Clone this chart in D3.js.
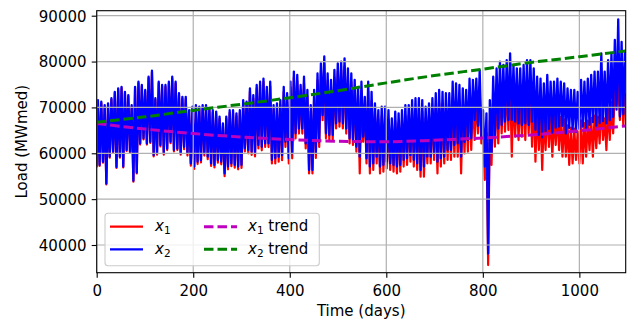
<!DOCTYPE html>
<html><head><meta charset="utf-8">
<script src="https://cdn.jsdelivr.net/npm/d3@7"></script>
<style>body{margin:0;background:#fff}svg{display:block}text{font-family:"DejaVu Sans",sans-serif}</style>
</head><body>
<script>
// ---- data (weekly high / low values, MWmed) ----
const x2Start = 57100;
const x1Start = 56900;
const x2High = [
71600,71250,70500,70900,72000,73400,74150,74500,73400,72700,
70500,74500,75600,74900,73800,76700,78000,72000,75600,74900,
74900,75600,76700,75600,73100,72300,72300,69400,70160,70500,
70160,70500,70500,69800,69400,69100,68000,66500,68000,69400,
69400,68700,69400,71600,71250,74150,72700,74900,75600,76300,
74500,75600,70500,70900,71600,74500,73100,75600,77800,77100,
74900,76700,73800,70500,73800,77400,79600,81100,77400,76000,
78200,79600,80000,80700,78500,77400,76000,74500,75600,72300,
75600,73400,70900,69400,70160,70160,69400,67600,69100,68700,
69400,70500,70500,71600,72000,72000,71600,70160,70900,72000,
73100,73800,73400,73100,73100,75600,75250,74900,74150,73800,
76300,76000,76300,78100,69400,68700,71600,76700,78500,80000,
79250,80300,81800,79250,78500,78500,79250,80300,80300,78500,
76700,76300,75250,77100,75600,75600,76300,75600,75250,74150,
73800,73800,73400,76000,75600,76300,77100,77800,77800,81800,
77800,80300,81800,84700,89200,84300,82500];
const x2Low = [
57450,58150,53400,59250,60350,57000,59250,57100,60700,60350,
54000,55800,62150,63250,62150,62500,59600,60000,61800,60000,
61000,62500,60700,61000,60000,
61400,60000,57800,57100,58150,58500,60000,59250,57800,57450,
58500,58150,55600,57100,57800,57450,57100,57450,61100,60700,
60350,60000,61800,61400,62150,62150,
58550,58900,59250,59600,62500,58900,60000,64350,65400,65400,
62150,56350,56350,60000,62500,68300,64350,64000,64000,66500,
66900,66500,65400,63250,62900,61450,
59250,63600,58900,57100,57800,59250,57100,57450,58150,57800,
57450,57100,57450,58550,58900,59600,58550,57800,56350,57100,
59250,59250,60000,58150,58900,59250,
60700,60700,61800,62150,59250,62500,62900,63250,67250,66000,
63600,57100,38150,60000,63600,65400,66150,66900,67250,67250,
66900,66500,66150,66500,66150,66900,65100,
64000,63500,64800,65300,64500,65600,65800,66000,64300,65500,
65000,64600,65300,65800,65400,66200,66800,66000,66600,67000,
66500,67200,67900,69500,68000,68500];
const x1High = [
71300,70950,70200,70600,71700,73100,73850,74200,73100,72400,
70200,74200,75300,74600,73500,76400,77700,71700,75300,74600,
74500,75200,76300,75200,72700,71900,71800,68900,69700,70000,
69700,70000,70000,69300,68900,68600,67500,66000,67500,68800,
68800,68100,68800,71000,70600,73500,72000,74200,74900,75600,
73800,74600,69500,69800,70500,73400,71900,74400,76500,75800,
73600,75300,72400,69100,72400,75900,78000,79500,75800,74400,
76500,77900,78200,78900,76700,75600,74200,72700,73700,70400,
73600,71400,68900,67400,68100,68100,67300,65500,67000,66500,
67200,68200,68200,69300,69600,69600,69100,67700,68400,69400,
70400,71000,70600,70000,69800,72200,71800,71300,70500,70100,
72500,72100,72300,74000,65200,64400,67200,72200,73900,75300,
74400,75300,76700,74000,73100,73000,73600,74500,74400,72400,
70300,69700,68500,70200,68500,68300,68800,67900,67400,66100,
65600,65400,64800,67200,66600,67100,67700,68200,68000,71800,
67600,69900,71200,73900,75200,74800,73000];
const x1Low = [
57250,57950,53200,59050,60150,56800,59050,56900,60500,60150,
53800,55600,61900,63000,61900,62250,59300,59700,61500,59700,
60700,62200,60400,60700,59700,
60900,59500,57300,56600,57650,58000,59500,58700,57250,56900,
57950,57600,55000,56500,57200,56850,56500,56800,60400,60000,
59650,59300,61050,60650,61400,61350,
57800,57800,58150,58500,61400,57800,58900,63250,64300,64300,
61050,55600,55600,59000,61400,67200,63250,62900,62900,65400,
65800,65400,64300,62150,61800,60350,
55600,62500,57800,55600,56350,57800,55600,56000,56700,56350,
56000,55600,56000,57100,57450,58150,57100,56350,54900,54900,
57800,57800,58550,55600,57100,57800,
58540,58540,59250,59250,55600,59980,60340,60710,62900,64340,
62160,54170,35630,57440,61440,62160,64340,64700,65070,59250,
63620,62890,63620,62890,64340,61440,58150,
60700,56350,60700,61400,59250,61800,60700,59250,59250,57450,
57800,58550,57800,57800,59250,60700,59250,61100,62150,62900,
60700,62900,64350,70160,67250,66150];
const trendDays = [0,100,200,300,400,500,600,700,800,900,1000,1095];
const x1Trend = [66500,65280,64300,63540,62990,62630,62520,62850,63350,64000,64900,65950];
const x2Trend = [66750,67950,69350,70700,72100,73650,75350,76950,78350,79800,81050,82300];
const xTicks = [0,200,400,600,800,1000];
const yTicks = [40000,50000,60000,70000,80000,90000];

// ---- build ----
const W=635,H=323;
const L=96.7,R=625.7,T=10.7,B=272.7;
const x=d3.scaleLinear().domain([0,1096]).range([L,R]);
const y=d3.scaleLinear().domain([33960,91090]).range([B,T]);

function series(start,hi,lo){
  const p=[[0,start]];
  hi.forEach((v,k)=>{p.push([7*k+2.5,v]); if(k<lo.length)p.push([7*k+6,lo[k]]);});
  return p;
}
const s1=series(x1Start,x1High,x1Low), s2=series(x2Start,x2High,x2Low);

const svg=d3.select("body").append("svg").attr("width",W).attr("height",H);
svg.append("rect").attr("width",W).attr("height",H).attr("fill","#fff");
svg.append("defs").append("clipPath").attr("id","c").append("rect")
  .attr("x",L).attr("y",T).attr("width",R-L).attr("height",B-T);
const g=svg.append("g").attr("clip-path","url(#c)");
const line=d3.line().x(d=>x(d[0])).y(d=>y(d[1]));
g.append("path").attr("d",line(s1)).attr("fill","none").attr("stroke","#ff0000").attr("stroke-width",2.2).attr("stroke-linejoin","round");
g.append("path").attr("d",line(s2)).attr("fill","none").attr("stroke","#0000ff").attr("stroke-width",2.3).attr("stroke-linejoin","round");

// grid (drawn above the data lines as in the reference)
xTicks.forEach(t=>g.append("line").attr("x1",x(t)).attr("x2",x(t)).attr("y1",T).attr("y2",B).attr("stroke","#b0b0b0").attr("stroke-width",1.2));
yTicks.forEach(t=>g.append("line").attr("x1",L).attr("x2",R).attr("y1",y(t)).attr("y2",y(t)).attr("stroke","#b0b0b0").attr("stroke-width",1.2));

const tl=d3.line().x((d,i)=>x(trendDays[i])).y(d=>y(d)).curve(d3.curveMonotoneX);
g.append("path").attr("d",tl(x1Trend)).attr("fill","none").attr("stroke","#bf00bf").attr("stroke-width",3).attr("stroke-dasharray","9.5,4");
g.append("path").attr("d",tl(x2Trend)).attr("fill","none").attr("stroke","#008000").attr("stroke-width",3).attr("stroke-dasharray","9.5,4");

// axes
const xa=svg.append("g").attr("transform",`translate(0,${B})`).call(d3.axisBottom(x).tickValues(xTicks).tickSize(5).tickPadding(5).tickFormat(d3.format("d")));
const ya=svg.append("g").attr("transform",`translate(${L},0)`).call(d3.axisLeft(y).tickValues(yTicks).tickSize(5).tickPadding(5).tickFormat(d3.format("d")));
[xa,ya].forEach(a=>{a.select(".domain").remove();a.selectAll("line").attr("stroke","#000").attr("stroke-width",1.1);
  a.selectAll("text").attr("font-size",15).attr("font-family","DejaVu Sans").attr("fill","#000");});
xa.selectAll("text").attr("dy",null).attr("y",23.8);
ya.selectAll("text").attr("dy","0.36em").attr("x",-10.2);
svg.append("rect").attr("x",L).attr("y",T).attr("width",R-L).attr("height",B-T).attr("fill","none").attr("stroke","#000").attr("stroke-width",1.1);

svg.append("text").attr("x",(L+R)/2).attr("y",316.3).attr("text-anchor","middle").attr("font-size",15).text("Time (days)");
svg.append("text").attr("transform",`translate(26.6,${(T+B)/2}) rotate(-90)`).attr("text-anchor","middle").attr("font-size",15).text("Load (MWmed)");

// legend
const lg=svg.append("g");
lg.append("rect").attr("x",105).attr("y",213.3).attr("width",214.3).attr("height",52.4).attr("rx",3)
  .attr("fill","#fff").attr("fill-opacity",0.8).attr("stroke","#cccccc").attr("stroke-width",1.1);
const items=[
  {c:"#ff0000",dash:null,sub:"1",tr:false,hx:110,tx:155,yy:226.7},
  {c:"#0000ff",dash:null,sub:"2",tr:false,hx:110,tx:155,yy:249.3},
  {c:"#bf00bf",dash:"9.5,4",sub:"1",tr:true,hx:204,tx:248,yy:226.7},
  {c:"#008000",dash:"9.5,4",sub:"2",tr:true,hx:204,tx:248,yy:249.3}];
items.forEach(it=>{
  const ln=lg.append("line").attr("x1",it.hx).attr("x2",it.hx+33).attr("y1",it.yy).attr("y2",it.yy)
    .attr("stroke",it.c).attr("stroke-width",it.dash?3:2.2);
  if(it.dash)ln.attr("stroke-dasharray",it.dash);
  const t=lg.append("text").attr("x",it.tx).attr("y",it.yy+4.3).attr("font-size",15);
  t.append("tspan").attr("font-style","italic").text("x");
  t.append("tspan").attr("font-size",10.5).attr("dy",3.2).text(it.sub);
  if(it.tr)t.append("tspan").attr("dy",-3.2).text(" trend");
});
</script>
</body></html>
